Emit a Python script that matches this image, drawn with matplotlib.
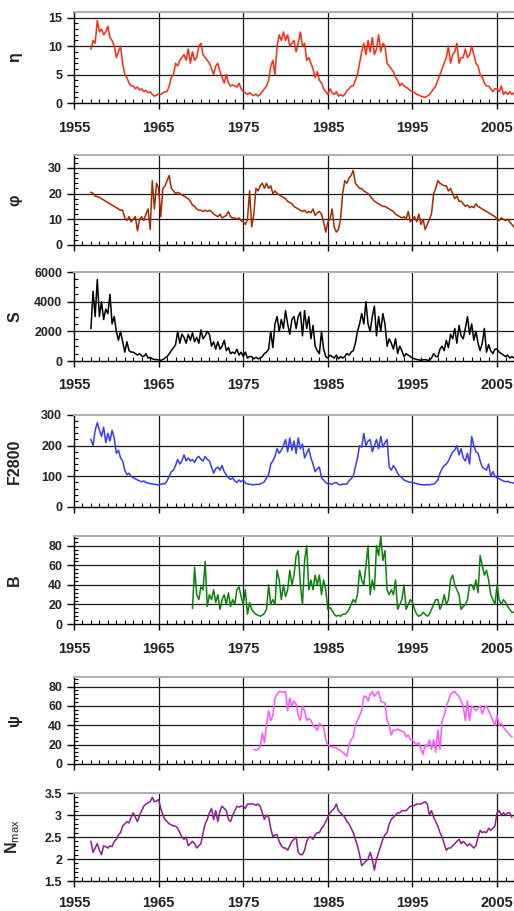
import numpy as np
import matplotlib
matplotlib.use("Agg")
import matplotlib.pyplot as plt
from matplotlib.ticker import MultipleLocator, FixedLocator

plt.rcParams['font.family'] = ['Liberation Sans', 'DejaVu Sans']
plt.rcParams['mathtext.fontset'] = 'custom'
plt.rcParams['mathtext.rm'] = 'Liberation Sans'

# ---------------- data (quarterly samples) ----------------
eta_start = 1957.0
eta = [9.5, 11, 10.5, 14.5,  12.5, 13, 12, 12.5,  13.5, 11.5, 11, 10,  8, 9, 10, 7,
       5, 4.5, 3.5, 3,  3, 2.5, 2.8, 2.3,  2.5, 2, 2.2, 1.8,  2, 1.5, 1.2, 1.4,
       1.6, 1.5, 1.8, 2,  2, 3, 4.5, 5,  7, 6.5, 7.5, 8,  8.5, 7.5, 9.5, 7,
       9, 7.5, 8, 10,  10.5, 8.5, 8, 7.5,  7, 6, 5, 6.5,  7, 5.5, 4.5, 3.5,
       5, 3.5, 3, 3.2,  3, 2.8, 3.5, 2.5,  2, 1.8, 1.5, 1.8,  1.5, 1.3, 1.6, 1.2,
       1.5, 2, 2.5, 3,  4, 6.5, 7.5, 5,  10, 12, 11, 12.5,  11, 12, 10, 10.5,
       11, 9, 10.5, 12.5,  10, 10.5, 7.5, 8,  7, 6, 4.5, 5.5,  4, 3.5, 2.5, 2,
       1.5, 2.5, 1.8, 1.5,  2, 1.2, 1.5, 1.2,  1.5, 2.2, 2.5, 3,  3, 4, 5, 7,
       9, 10.5, 8.5, 11,  9, 11.5, 8.5, 9.5,  12, 9, 10.5, 10,  7, 6.5, 6, 5.5,
       4.5, 4, 3, 3.5,  3, 2.8, 2.5, 2.2,  2, 1.8, 1.5, 1.4,  1.2, 1.1, 1, 1.2,
       1.5, 2, 2.5, 3,  4, 5, 6, 7,  8, 10, 7, 8.5,  9, 10.5, 7, 8,
       8, 9.5, 8, 8.5,  10, 8.5, 7, 6.5,  5, 4.5, 3.5, 3,  3, 2.5, 2, 2.5,
       2.5, 2, 3, 1.5,  2, 1.5, 2, 1.5,  1.8]

phi_start = 1957.0
phi = [20.5, 20, 19, 18.8,  18.5, 18, 17.5, 17,  16.5, 16, 15.5, 15,  14.5, 14, 13.5, 13.5,
       10.5, 9.5, 11, 9,  10, 11, 5.5, 10,  11, 9.5, 12, 14,  6, 25, 14, 24,
       22, 11, 22, 23,  25, 27, 22, 21,  20, 20.5, 20, 19.5,  19, 18.5, 18, 17,
       15.5, 15, 14, 13.5,  13.5, 13, 13.5, 13,  13.5, 13, 12, 11.5,  11, 12, 10.5, 11,
       11.5, 13, 11, 10.5,  10.5, 10, 10.5, 9.5,  9, 8, 10, 21,  7, 12, 22, 21,
       23, 24, 22, 24,  22, 23, 20, 21,  20, 19.5, 19, 18.5,  18, 17, 16.5, 16,
       15, 14.5, 14, 13.5,  13, 13.5, 12.5, 13,  12.5, 14, 11.5, 12.5,  13, 12, 9, 5,
       9, 10, 14, 7,  5, 6, 10, 20,  25, 24, 26, 27,  29, 24, 23, 22,
       22, 21, 20.5, 20,  19, 18, 17, 16.5,  16, 15.5, 15, 15,  14.5, 14, 13.5, 13,
       12, 11.5, 11, 10.5,  11, 10, 13, 9,  10, 11, 9, 12,  8, 10, 6, 8,
       10, 12, 20, 22,  25, 24, 23.5, 23,  23, 21, 22, 20,  18, 19, 17, 17,
       16, 15, 15.5, 14.5,  15, 14.5, 16, 15,  14.5, 14, 13.5, 13,  12.5, 12, 11.5, 11,
       10, 9.5, 10.5, 10,  9.5, 10, 9, 8,  7]

S_start = 1957.0
S = [2200, 4700, 3000, 5500,  3000, 4000, 2800, 3500,  3200, 4500, 2500, 3000,  2000, 1400, 2000, 1300,
     600, 1300, 700, 600,  600, 500, 400, 500,  350, 300, 500, 200,  250, 150, 100, 100,
     80, 50, 100, 200,  300, 500, 700, 900,  1100, 2000, 1200, 1800,  1600, 1200, 1800, 1400,
     1900, 1300, 1600, 1200,  2100, 1500, 1700, 2000,  1800, 1000, 1300, 800,  1300, 800, 1000, 1400,
     700, 900, 500, 600,  500, 800, 400, 600,  300, 600, 200, 300,  300, 150, 250, 150,
     200, 300, 500, 600,  800, 2000, 900, 2500,  3000, 2000, 2800, 2200,  3400, 2500, 1800, 2800,
     3000, 2200, 3000, 3300,  1700, 3400, 2200, 3000,  1500, 2400, 1000, 700,  500, 2000, 800, 300,
     200, 400, 300, 200,  400, 150, 300, 200,  300, 500, 400, 600,  700, 1200, 2000, 2500,
     3200, 2500, 4000, 2500,  2000, 3000, 3700, 1700,  3000, 2000, 3200, 2500,  1000, 1500, 1200, 800,
     1500, 500, 1000, 700,  300, 500, 400, 300,  200, 150, 100, 80,  50, 80, 100, 60,
     50, 200, 500, 300,  300, 800, 1000, 700,  1400, 900, 1800, 1500,  2200, 1200, 2400, 1700,
     1500, 2200, 3000, 1800,  2500, 1400, 2000, 1200,  700, 1200, 2200, 600,  1100, 700, 500, 800,
     800, 600, 500, 400,  300, 400, 200, 300,  200]

F_start = 1957.0
F2800 = [220, 200, 250, 275,  250, 230, 260, 210,  240, 215, 250, 225,  175, 185, 160, 150,
         120, 105, 110, 100,  95, 92, 88, 85,  82, 85, 80, 78,  76, 75, 74, 73,
         72, 74, 76, 75,  85, 100, 115, 120,  135, 155, 140, 150,  170, 150, 160, 150,
         155, 145, 160, 165,  155, 150, 165, 155,  150, 130, 110, 125,  130, 120, 135, 115,
         105, 95, 90, 95,  85, 80, 88, 82,  88, 78, 75, 74,  73, 72, 74, 73,
         75, 78, 82, 95,  105, 140, 150, 165,  190, 175, 185, 200,  220, 180, 225, 185,
         215, 175, 225, 190,  205, 160, 175, 190,  160, 140, 115, 125,  130, 95, 88, 80,
         75, 76, 74, 78,  80, 74, 72, 75,  74, 75, 85, 92,  100, 130, 160, 200,
         195, 240, 200, 215,  220, 180, 200, 220,  190, 230, 195, 210,  220, 130, 120, 135,
         125, 110, 100, 95,  88, 85, 82, 80,  80, 78, 76, 74,  73, 72, 72, 73,
         72, 74, 74, 80,  88, 110, 125, 135,  140, 150, 165, 180,  185, 200, 170, 190,
         160, 150, 175, 140,  230, 200, 180, 175,  150, 130, 125, 120,  140, 100, 115, 100,
         95, 92, 88, 85,  82, 84, 80, 79,  78]

B_start = 1969.0
B = [16, 58, 30, 25,  38, 35, 64, 18,  30, 25, 35, 22,  30, 15, 25, 30,
     20, 32, 18, 25,  20, 35, 38, 28,  20, 35, 10, 22,  15, 12, 10, 9,
     8, 9, 11, 15,  40, 20, 25, 20,  55, 45, 25, 40,  28, 35, 55, 40,
     50, 70, 75, 40,  20, 65, 80, 35,  45, 35, 50, 40,  50, 30, 45, 35,
     15, 17, 14, 10,  8, 9, 8, 10,  10, 12, 15, 20,  25, 22, 30, 55,
     45, 40, 60, 80,  30, 45, 35, 80,  70, 90, 65, 75,  35, 30, 35, 30,
     45, 15, 20, 25,  40, 15, 20, 25,  22, 15, 10, 8,  9, 12, 10, 8,
     10, 15, 20, 25,  25, 15, 20, 30,  20, 25, 45, 50,  40, 35, 30, 15,
     18, 20, 25, 40,  40, 35, 45, 32,  70, 60, 50, 55,  45, 30, 25, 20,
     40, 25, 20, 25,  22, 18, 15, 12,  12]

psi_start = 1976.25
psi = [15, 14, 15,
       18, 32, 22, 40,  55, 45, 50, 68,  72, 75, 75, 74,  75, 55, 68, 60,
       65, 62, 50, 45,  60, 55, 45, 47,  45, 40, 38, 35,  42, 40, 38, 25,
       20, 18, 18, 17,  17, 15, 14, 12,  10, 8, 20, 25,  28, 40, 45, 50,
       55, 70, 70, 65,  72, 75, 70, 73,  75, 65, 64, 63,  45, 40, 30, 35,
       35, 36, 35, 34,  33, 28, 30, 25,  25, 22, 20, 22,  15, 10, 20, 18,
       25, 15, 25, 12,  35, 15, 45, 50,  60, 65, 72, 74,  75, 72, 70, 65,
       60, 45, 65, 45,  60, 58, 55, 58,  60, 52, 58, 60,  55, 50, 45, 40,
       50, 40, 42, 38,  35, 33, 30, 28]

N_start = 1957.0
Nmax = [2.4, 2.15, 2.25, 2.35,  2.2, 2.1, 2.3, 2.28,  2.25, 2.3, 2.28, 2.4,  2.45, 2.55, 2.6, 2.75,
        2.8, 2.85, 2.82, 2.95,  3.05, 2.95, 2.85, 3.0,  3.1, 3.2, 3.25, 3.28,  3.3, 3.4, 3.3, 3.32,
        3.35, 3.15, 3.0, 2.9,  2.85, 2.8, 2.78, 2.75,  2.75, 2.7, 2.6, 2.5,  2.45, 2.5, 2.3, 2.35,
        2.4, 2.35, 2.25, 2.3,  2.35, 2.6, 2.8, 2.9,  3.05, 3.15, 2.9, 3.1,  2.85, 3.1, 3.2, 3.15,
        3.1, 2.9, 2.85, 3.0,  3.1, 3.2, 3.18, 3.2,  3.2, 3.15, 3.25, 3.25,  3.25, 3.25, 3.22, 3.25,
        3.2, 3.05, 2.9, 3.0,  2.95, 2.7, 2.5, 2.55,  2.55, 2.4, 2.3, 2.25,  2.25, 2.2, 2.3, 2.4,
        2.45, 2.5, 2.15, 2.1,  2.1, 2.2, 2.4, 2.5,  2.5, 2.45, 2.55, 2.6,  2.6, 2.7, 2.75, 2.85,
        2.95, 3.05, 3.1, 3.15,  3.25, 3.1, 3.05, 3.0,  2.95, 2.85, 2.8, 2.7,  2.6, 2.45, 2.3, 2.1,
        1.85, 1.9, 1.95, 2.0,  2.15, 2.0, 1.75, 2.0,  2.15, 2.3, 2.45, 2.55,  2.6, 2.8, 2.9, 2.95,
        3.0, 3.05, 3.05, 3.1,  3.1, 3.1, 3.15, 3.2,  3.2, 3.22, 3.25, 3.25,  3.25, 3.28, 3.3, 3.25,
        3.0, 3.1, 2.95, 2.85,  2.75, 2.6, 2.5, 2.35,  2.2, 2.25, 2.25, 2.3,  2.35, 2.4, 2.45, 2.35,
        2.4, 2.35, 2.3, 2.35,  2.3, 2.25, 2.3, 2.5,  2.65, 2.6, 2.62, 2.6,  2.7, 2.65, 2.7, 2.75,
        3.05, 3.1, 3.0, 3.05,  3.0, 3.05, 3.05, 2.95]

year_ticks = [1955, 1965, 1975, 1985, 1995, 2005]

panels = [
    # label, start, values, color, ylim, major ticks, minor step, tick labels, show x labels, axes rect, x pad
    ("η", eta_start, eta, "#FF2A12", (0, 16), [0, 5, 10, 15], 1, None, True,
     [0.144, 0.8869, 0.856, 0.0999], 9),
    ("φ", phi_start, phi, "#A82800", (0, 35), [0, 10, 20, 30], 2, None, False,
     [0.144, 0.7311, 0.856, 0.0988], 9),
    ("S", S_start, S, "#000000", (0, 6000), [0, 2000, 4000, 6000], 500, None, True,
     [0.144, 0.6037, 0.856, 0.0977], 8),
    ("F2800", F_start, F2800, "#3A3AFF", (0, 300), [0, 100, 200, 300], 20, None, False,
     [0.144, 0.4435, 0.856, 0.1010], 9),
    ("B", B_start, B, "#0A820A", (0, 90), [0, 20, 40, 60, 80], 4, None, True,
     [0.144, 0.3150, 0.856, 0.0966], 9),
    ("ψ", psi_start, psi, "#FF55FF", (0, 90), [0, 20, 40, 60, 80], 4, None, False,
     [0.144, 0.1614, 0.856, 0.0955], 9),
    (r"N$_{\rm max}$", N_start, Nmax, "#8E1E8E", (1.5, 3.5), [1.5, 2, 2.5, 3, 3.5], 0.1,
     ["1.5", "2", "2.5", "3", "3.5"], True, [0.144, 0.0329, 0.856, 0.0966], 6.5),
]

fig = plt.figure(figsize=(5.14, 9.11), dpi=100)

for label, start, vals, color, ylim, majors, minor, ticklabels, showx, rect, xpad in panels:
    ax = fig.add_axes(rect)
    x = start + 0.25 * np.arange(len(vals))
    ax.set_xlim(1955, 2007.0)
    ax.set_ylim(*ylim)
    # grid
    for yv in majors:
        if ylim[0] < yv < ylim[1]:
            ax.axhline(yv, color="#1a1a1a", lw=0.9, zorder=1)
    for xv in year_ticks[1:]:
        ax.axvline(xv, color="#1a1a1a", lw=0.9, zorder=1)
    ax.plot(x, vals, color=color, lw=1.1, zorder=3)

    ax.xaxis.set_major_locator(FixedLocator(year_ticks))
    ax.xaxis.set_minor_locator(MultipleLocator(1))
    ax.yaxis.set_major_locator(FixedLocator(majors))
    ax.yaxis.set_minor_locator(MultipleLocator(minor))
    if ticklabels is not None:
        ax.set_yticklabels(ticklabels)
    ax.tick_params(axis="y", which="major", direction="out", length=5, width=1,
                   pad=3.5, labelsize=9)
    ax.tick_params(axis="y", which="minor", direction="in", length=3, width=0.8)
    ax.tick_params(axis="x", which="major", direction="out", length=4, width=1,
                   pad=xpad, labelsize=10.5)
    ax.tick_params(axis="x", which="minor", direction="in", length=3, width=0.8)
    for t in ax.get_yticklabels() + ax.get_xticklabels():
        t.set_fontweight("bold")
        t.set_color("#222222")
    if not showx:
        ax.set_xticklabels([])
    ax.spines["right"].set_visible(False)
    ax.spines["top"].set_color("#b0b0b0")
    ax.spines["top"].set_linewidth(1.5)
    ax.spines["left"].set_linewidth(1.0)
    ax.spines["bottom"].set_linewidth(1.0)
    ax.set_ylabel(label, fontsize=11.5, fontweight="bold", color="#222222")
    ax.yaxis.set_label_coords(-0.118, 0.5)

fig.savefig("out.png", dpi=100)
